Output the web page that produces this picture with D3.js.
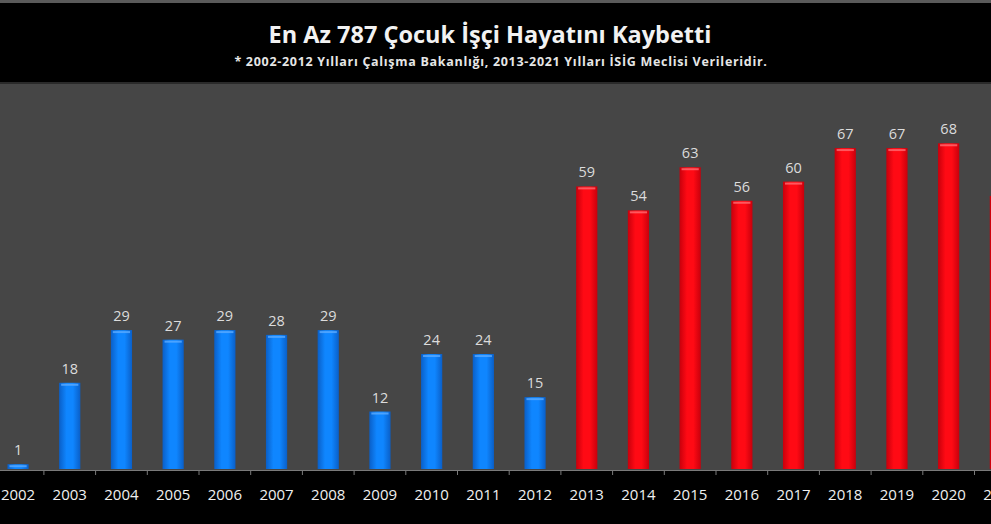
<!DOCTYPE html>
<html>
<head>
<meta charset="utf-8">
<script src="https://cdn.jsdelivr.net/npm/d3@7"></script>
<style>
  html, body { margin: 0; padding: 0; background: #000; }
  svg { display: block; }
</style>
</head>
<body>
<div id="chart"></div>
<script>
var svgWidth = 991
var svgHeight = 524

// Data
var years = ["2002","2003","2004","2005","2006","2007","2008","2009","2010","2011",
             "2012","2013","2014","2015","2016","2017","2018","2019","2020","2021"]
var deaths = [1, 18, 29, 27, 29, 28, 29, 12, 24, 24,
              15, 59, 54, 63, 56, 60, 67, 67, 68, 57]
// 2002-2012 ministry figures, 2013-2021 ISIG figures
var sources = ["bakanlik","bakanlik","bakanlik","bakanlik","bakanlik","bakanlik","bakanlik","bakanlik","bakanlik","bakanlik",
               "bakanlik","isig","isig","isig","isig","isig","isig","isig","isig","isig"]
var title = "En Az 787 Çocuk İşçi Hayatını Kaybetti"
var subtitle = "* 2002-2012 Yılları Çalışma Bakanlığı, 2013-2021 Yılları İSİG Meclisi Verileridir."

// Layout
var plotTop = 84
var baseline = 470

var svg = d3.select("#chart")
    .append("svg")
    .attr("width", svgWidth)
    .attr("height", svgHeight)

// gradients for the bars
var defs = svg.append("defs")
function addGradient(id, edge, mid) {
    var g = defs.append("linearGradient").attr("id", id)
        .attr("x1", "0%").attr("x2", "100%").attr("y1", "0%").attr("y2", "0%")
    g.append("stop").attr("offset", "0%").attr("stop-color", edge)
    g.append("stop").attr("offset", "35%").attr("stop-color", mid)
    g.append("stop").attr("offset", "65%").attr("stop-color", mid)
    g.append("stop").attr("offset", "100%").attr("stop-color", edge)
}
addGradient("gradBlue", "#0a5fc8", "#0f86ff")
addGradient("gradRed", "#c8000c", "#ff0a14")

// background pieces
svg.append("rect").attr("x", 0).attr("y", 0).attr("width", svgWidth).attr("height", svgHeight).attr("fill", "#000")
svg.append("rect").attr("x", 0).attr("y", 0).attr("width", svgWidth).attr("height", 3).attr("fill", "#5a5a5a")
svg.append("rect").attr("x", 0).attr("y", 82).attr("width", svgWidth).attr("height", 3).attr("fill", "#2a2a2a")
svg.append("rect").attr("x", 0).attr("y", plotTop).attr("width", svgWidth).attr("height", baseline - plotTop).attr("fill", "#464646")

// Title
svg.append("text")
    .attr("x", 490)
    .attr("y", 43)
    .attr("text-anchor", "middle")
    .attr("fill", "#f2f2f2")
    .attr("font-family", "'Open Sans', sans-serif")
    .attr("font-weight", "bold")
    .attr("font-size", 23.5)
    .text(title)

svg.append("text")
    .attr("x", 501)
    .attr("y", 66)
    .attr("text-anchor", "middle")
    .attr("fill", "#e6e6e6")
    .attr("font-family", "'Open Sans', sans-serif")
    .attr("font-weight", "bold")
    .attr("font-size", 12.5)
    .attr("letter-spacing", 0.7)
    .text(subtitle)

// Scales
var xScale = d3.scaleBand()
    .domain(years)
    .range([-7.8, -7.8 + 51.7 * years.length])
    .paddingInner(0.59)
    .paddingOuter(0.295)

var yScale = d3.scaleLinear()
    .domain([0, 80])
    .range([baseline - 1, baseline - 1 - 80 * 4.79])

var chartGroup = svg.append("g")

// Bars
chartGroup.selectAll("rect.bar")
    .data(years)
    .enter()
    .append("rect")
    .attr("class", "bar")
    .attr("x", d => xScale(d))
    .attr("width", xScale.bandwidth())
    .attr("y", (d, i) => yScale(deaths[i]))
    .attr("height", (d, i) => yScale(0) - yScale(deaths[i]))
    .attr("fill", (d, i) => sources[i] == "isig" ? "url(#gradRed)" : "url(#gradBlue)")

// lighter cap on top of each bar
chartGroup.selectAll("rect.cap")
    .data(years)
    .enter()
    .append("rect")
    .attr("class", "cap")
    .attr("x", d => xScale(d) + 2)
    .attr("width", xScale.bandwidth() - 4)
    .attr("y", (d, i) => yScale(deaths[i]) + 1)
    .attr("height", 2)
    .attr("fill", (d, i) => sources[i] == "isig" ? "#ff6a70" : "#5aaaff")
    .attr("opacity", 0.8)

// Value labels
chartGroup.selectAll("text.val")
    .data(years)
    .enter()
    .append("text")
    .attr("class", "val")
    .attr("x", d => xScale(d) + xScale.bandwidth() / 2)
    .attr("y", (d, i) => yScale(deaths[i]) - 9)
    .attr("text-anchor", "middle")
    .attr("fill", "#dcdcdc")
    .attr("font-family", "'Open Sans', sans-serif")
    .attr("font-size", 14.5)
    .text((d, i) => deaths[i])

// X axis
var xAxis = svg.append("g")
    .attr("transform", "translate(0," + baseline + ")")
    .call(d3.axisBottom(xScale).tickSize(0).tickPadding(19))
xAxis.select(".domain").attr("stroke", "#7a7a7a")
xAxis.selectAll("text")
    .attr("fill", "#f0f0f0")
    .attr("font-family", "'Open Sans', sans-serif")
    .attr("font-size", 15)

// tick marks between categories
svg.selectAll("line.sep")
    .data(years)
    .enter()
    .append("line")
    .attr("class", "sep")
    .attr("x1", d => xScale(d) - xScale.step() * xScale.paddingInner() / 2)
    .attr("x2", d => xScale(d) - xScale.step() * xScale.paddingInner() / 2)
    .attr("y1", baseline)
    .attr("y2", baseline + 5)
    .attr("stroke", "#7a7a7a")
</script>
</body>
</html>
